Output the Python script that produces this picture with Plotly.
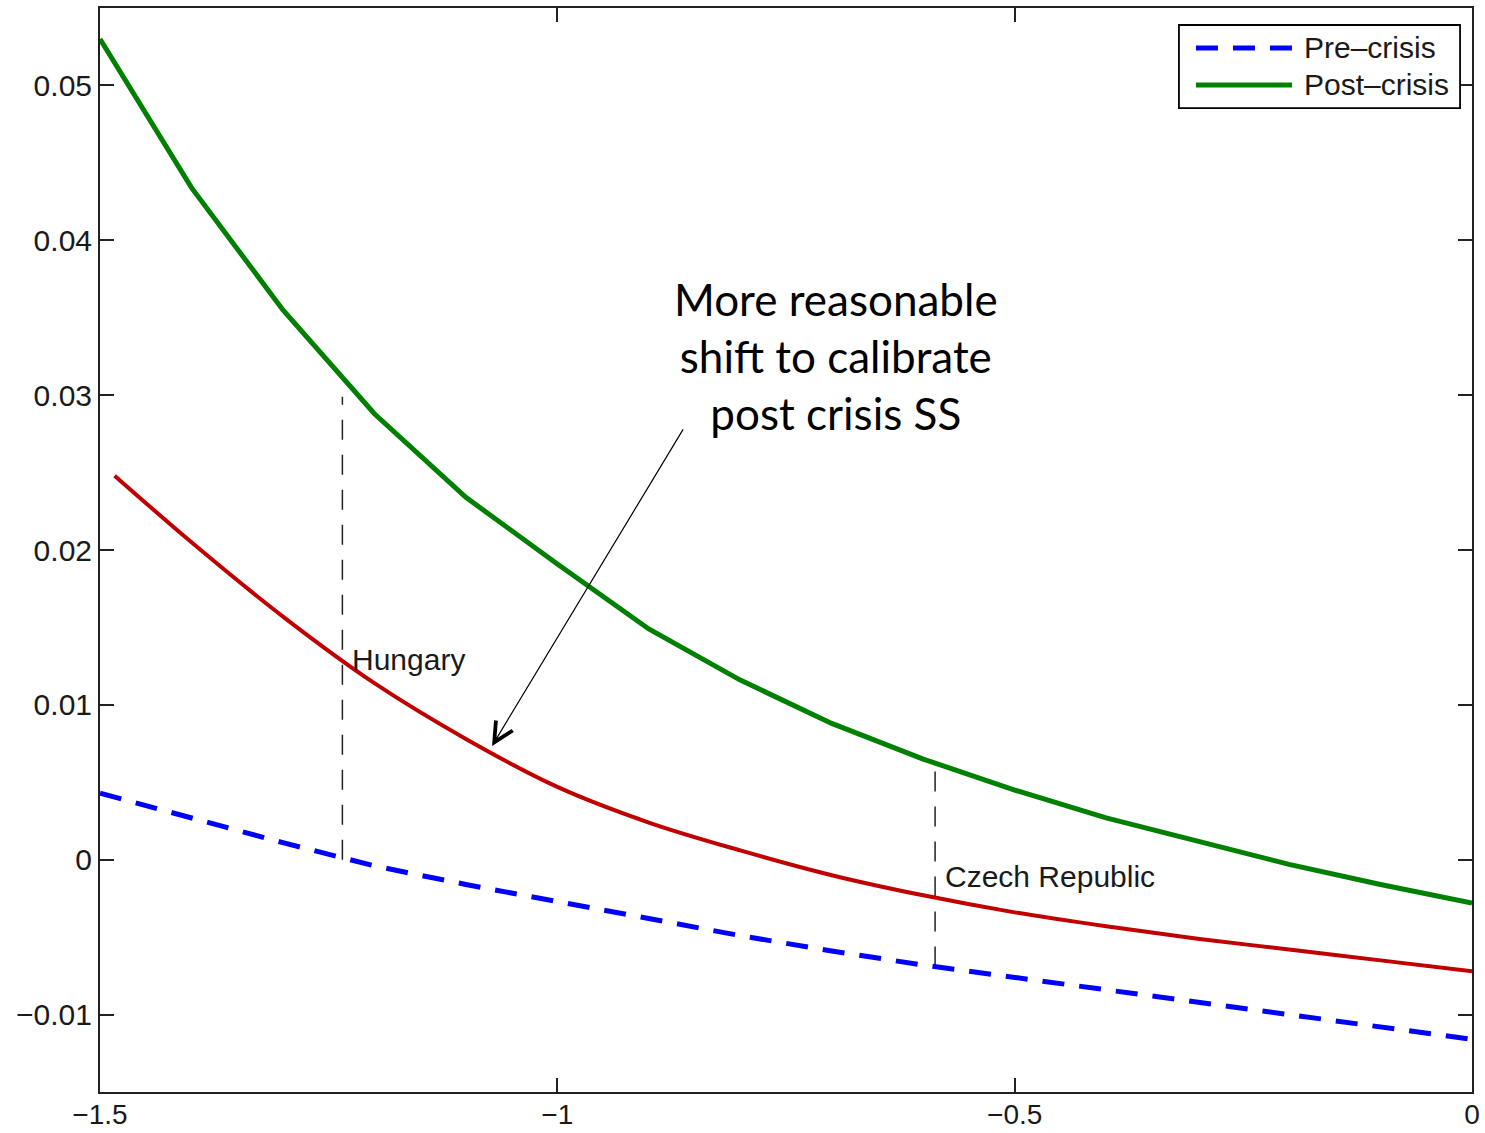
import plotly.graph_objects as go

# ---------------- data ----------------
x_grid = [-1.5, -1.4, -1.3, -1.2, -1.1, -1.0, -0.9, -0.8, -0.7, -0.6, -0.5, -0.4, -0.3, -0.2, -0.1, 0.0]
pre_crisis = [0.0043, 0.0027, 0.0011, -0.0004, -0.0016, -0.0027, -0.0038, -0.0049,
              -0.0059, -0.0068, -0.0076, -0.0084, -0.0092, -0.0100, -0.0108, -0.0116]
post_crisis = [0.0530, 0.0434, 0.0355, 0.0288, 0.0234, 0.0191, 0.0149, 0.0116,
               0.0088, 0.0065, 0.0045, 0.0027, 0.0012, -0.0003, -0.0016, -0.0028]
shift_x = [-1.484, -1.4, -1.3, -1.2, -1.1, -1.0, -0.9, -0.8, -0.7, -0.6, -0.5, -0.4, -0.3, -0.2, -0.1, 0.0]
shifted = [0.0248, 0.0205, 0.0157, 0.0114, 0.0078, 0.0047, 0.0024, 0.0006,
           -0.0010, -0.0023, -0.0034, -0.0043, -0.0051, -0.0058, -0.0065, -0.0072]

countries = ["Hungary", "Czech Republic"]
country_x = [-1.235, -0.587]
vline_bottom = [0.0, -0.0069]
vline_top = [0.0299, 0.0063]
label_y = [0.0129, -0.0011]

x_ticks = [-1.5, -1.0, -0.5, 0.0]
x_ticklabels = ["\u22121.5", "\u22121", "\u22120.5", "0"]
y_ticks = [-0.01, 0.0, 0.01, 0.02, 0.03, 0.04, 0.05]
y_ticklabels = ["\u22120.01", "0", "0.01", "0.02", "0.03", "0.04", "0.05"]

arrow_target = (-1.0714, 0.00735)
note_text = "More reasonable<br>shift to calibrate<br>post crisis SS"
note_pos = (-0.6953, 0.0325)

BLUE = "#0000FF"
GREEN = "#008000"
RED = "#C00000"
TXT = "#1a1a1a"

fig = go.Figure()

# vertical dashed lines for countries
for cx, yb, yt in zip(country_x, vline_bottom, vline_top):
    fig.add_trace(go.Scatter(x=[cx, cx], y=[yb, yt], mode="lines",
                             line=dict(color="#222222", width=1.5, dash="20px,15px"),
                             showlegend=False, hoverinfo="skip"))

fig.add_trace(go.Scatter(x=x_grid, y=post_crisis, mode="lines", name="Post\u2013crisis",
                         line=dict(color=GREEN, width=5), showlegend=False))
fig.add_trace(go.Scatter(x=shift_x, y=shifted, mode="lines", name="Shifted",
                         line=dict(color=RED, width=4, shape="spline"), showlegend=False))
fig.add_trace(go.Scatter(x=x_grid, y=pre_crisis, mode="lines", name="Pre\u2013crisis",
                         line=dict(color=BLUE, width=5, dash="22px,15px"), showlegend=False))

# country labels
for name, cx, ly in zip(countries, country_x, label_y):
    fig.add_annotation(x=cx, y=ly, text=name, showarrow=False, xanchor="left", yanchor="middle",
                       xshift=8, font=dict(family="Liberation Sans, Arial", size=30, color=TXT))

# arrow
fig.add_annotation(x=arrow_target[0], y=arrow_target[1], ax=192, ay=-318, text="",
                   showarrow=True, arrowhead=5, arrowsize=3.2, arrowwidth=1.2, arrowcolor="black")
# note text
fig.add_annotation(x=note_pos[0], y=note_pos[1], text=note_text, showarrow=False,
                   xanchor="center", yanchor="middle", align="center",
                   font=dict(family="Lato, Carlito, Calibri", size=44, color="black"))

# manual legend (box, samples, labels) in paper coordinates
fig.add_shape(type="rect", xref="paper", yref="paper", x0=0.7864, x1=0.9913, y0=0.9077, y1=0.9843,
              line=dict(color="black", width=1.8), fillcolor="white", layer="above")
fig.add_shape(type="line", xref="paper", yref="paper", x0=0.7988, x1=0.8688, y0=0.9631, y1=0.9631,
              line=dict(color=BLUE, width=5, dash="22px,15px"), layer="above")
fig.add_shape(type="line", xref="paper", yref="paper", x0=0.7988, x1=0.8688, y0=0.9290, y1=0.9290,
              line=dict(color=GREEN, width=5), layer="above")
for txt, yy in [("Pre\u2013crisis", 0.9631), ("Post\u2013crisis", 0.9290)]:
    fig.add_annotation(xref="paper", yref="paper", x=0.8761, y=yy, text=txt, showarrow=False,
                       xanchor="left", yanchor="middle",
                       font=dict(family="Liberation Sans, Arial", size=30, color=TXT))

axis_common = dict(showline=True, linecolor="#222222", linewidth=2, mirror="allticks",
                   ticks="inside", ticklen=14, tickwidth=1.5, tickcolor="#222222",
                   showgrid=False, zeroline=False, automargin=False,
                   tickfont=dict(family="Liberation Sans, Arial", size=30, color=TXT))

fig.update_xaxes(range=[-1.5, 0.0], tickvals=x_ticks, ticktext=x_ticklabels, **axis_common)
fig.update_xaxes(tickfont=dict(size=28), ticklabelstandoff=-4)
fig.update_yaxes(range=[-0.015, 0.055], tickvals=y_ticks, ticktext=y_ticklabels, **axis_common)

fig.update_layout(width=1485, height=1133, margin=dict(l=100, r=13, t=8, b=41, autoexpand=False),
                  paper_bgcolor="white", plot_bgcolor="white", showlegend=False)

fig.write_html("out.html")
